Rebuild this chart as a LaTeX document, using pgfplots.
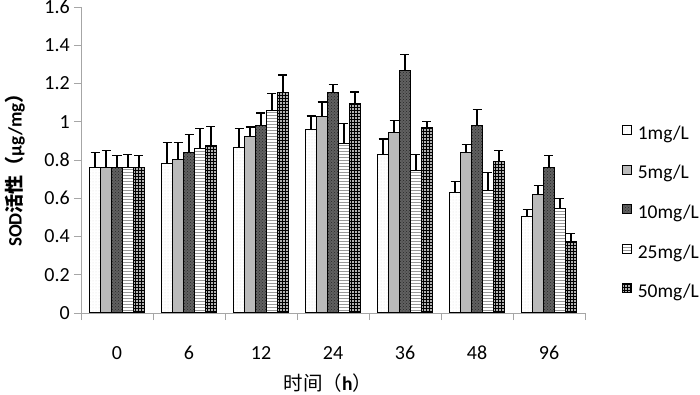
\documentclass[border=0pt]{standalone}
\usepackage{pgfplots}
\pgfplotsset{compat=1.18}
\usepackage{pgfplotstable}
\usepackage{fontspec}
\setmainfont{Carlito}
\newfontfamily\cjk{Noto Sans CJK SC}
\usetikzlibrary{patterns}
\pgfplotstableread{
x y1 e1 y2 e2 y3 e3 y4 e4 y5 e5
0 0.76 0.08 0.76 0.09 0.76 0.065 0.76 0.07 0.76 0.065
1 0.78 0.11 0.80 0.09 0.84 0.095 0.86 0.105 0.875 0.10
2 0.863 0.10 0.922 0.05 0.981 0.065 1.061 0.087 1.155 0.09
3 0.957 0.073 1.027 0.076 1.153 0.042 0.886 0.106 1.098 0.057
4 0.827 0.083 0.945 0.061 1.27 0.08 0.747 0.083 0.968 0.032
5 0.629 0.059 0.841 0.041 0.98 0.083 0.641 0.095 0.792 0.057
6 0.502 0.04 0.618 0.049 0.759 0.064 0.545 0.054 0.372 0.043
}\data
\begin{document}
\fontsize{20}{24}\selectfont
\begin{tikzpicture}
\begin{axis}[
  at={(0,0)}, anchor=south west,
  scale only axis, width=504pt, height=306pt,
  xmin=-0.5, xmax=6.5, ymin=0, ymax=1.6,
  ybar=0pt, bar width=0.152,
  axis x line*=bottom, axis y line*=left,
  axis line style={gray!70, line width=0.8pt},
  tick align=outside,
  ytick={0,0.2,...,1.6},
  yticklabels={0,0.2,0.4,0.6,0.8,1,1.2,1.4,1.6},
  ytick style={gray!70, line width=0.8pt},
  major tick length=7pt,
  xtick={-0.5,0.5,...,6.5},
  xticklabels={},
  xtick style={gray!70, line width=0.8pt},
  extra x ticks={0,1,2,3,4,5,6},
  extra x tick labels={0,6,12,24,36,48,96},
  extra x tick style={major tick length=0pt, tick label style={anchor=base, yshift=-46pt}},
  yticklabel style={anchor=east, inner sep=0pt, xshift=-4pt},
  /pgf/number format/assume math mode=true,
  tick label style={font=\fontsize{20}{24}\selectfont},
  ylabel={\bfseries SOD{\cjk 活性（}μg/mg{\cjk ）}},
  ylabel style={at={(axis description cs:-0.131,0.482)}, anchor=center, font=\fontsize{19}{22}\selectfont},
  xlabel={{\cjk 时间（}\textbf{h}{\cjk ）}},
  xlabel style={at={(axis description cs:0.49,0)}, anchor=center, yshift=-70pt, font=\fontsize{19.5}{22}\selectfont},
  error bars/y dir=plus, error bars/y explicit,
  error bars/error bar style={black, line width=1.3pt},
  error bars/error mark options={rotate=90, mark size=4.5pt, line width=1.3pt, black},
  legend style={at={(1.0734,0.615)}, anchor=north west, draw=none, fill=none, inner sep=0pt,
    row sep=21.3pt, nodes={inner sep=0pt, text height=12pt, text depth=4pt},
    /tikz/every odd column/.append style={column sep=6pt},
    font=\fontsize{19.5}{22}\selectfont},
  legend cell align=left,
  legend image code/.code={\draw[#1, line width=0.6pt] (0pt,1pt) rectangle (9pt,10pt);},
]
\addplot[draw=black, line width=1pt, fill=white, postaction={pattern=dots, pattern color=black!12}] table[x=x, y=y1, y error=e1] {\data};
\addplot[draw=black, line width=1pt, fill=black!27] table[x=x, y=y2, y error=e2] {\data};
\addplot[draw=black, line width=1pt, fill=black!62, postaction={pattern=crosshatch dots, pattern color=black!85}] table[x=x, y=y3, y error=e3] {\data};
\addplot[draw=black, line width=1pt, fill=white, postaction={pattern=horizontal lines, pattern color=black!40}] table[x=x, y=y4, y error=e4] {\data};
\addplot[draw=black, line width=1pt, fill=black!30, postaction={pattern=grid, pattern color=black}] table[x=x, y=y5, y error=e5] {\data};
\legend{1mg/L,5mg/L,10mg/L,25mg/L,50mg/L}
\end{axis}
\pgfresetboundingbox
\path (-81pt,-82pt) rectangle (619pt,313pt);
\end{tikzpicture}
\end{document}
